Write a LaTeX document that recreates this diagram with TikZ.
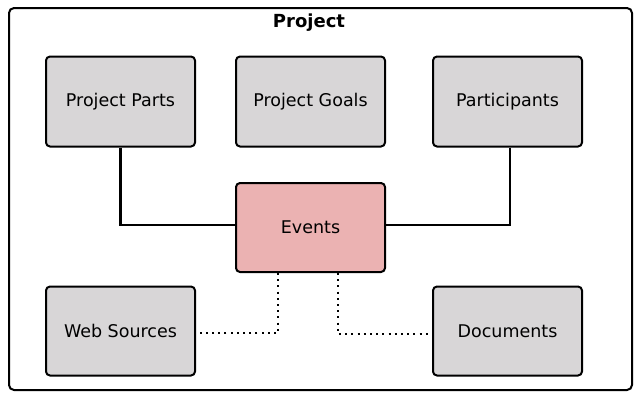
\documentclass[tikz,border=0pt]{standalone}
\usepackage{fontspec}
\setmainfont{DejaVu Sans}
\definecolor{boxgray}{HTML}{D8D6D7}
\definecolor{evpink}{HTML}{EBB2B2}
\begin{document}
\begin{tikzpicture}[x=1pt,y=-1pt,
  box/.style={draw=black,line width=2pt,rounded corners=4pt,fill=boxgray,
    minimum width=149pt,minimum height=90pt,inner sep=0pt,
    font=\fontsize{17.5}{20}\selectfont},
  link/.style={draw=black,line width=2.4pt},
  dotlink/.style={draw=black,line width=2pt,dash pattern=on 2pt off 4.2pt}]
\useasboundingbox (0,0) rectangle (640,400);
\node[draw=black,line width=2pt,rounded corners=5pt,minimum width=623pt,minimum height=382pt,inner sep=0pt,anchor=north west] (frame) at (8,7) {};
\node[font=\bfseries\fontsize{18}{21}\selectfont,anchor=base] (title) at (309,27) {Project};
\node[box] (parts) at (120.5,101.5) {Project Parts};
\node[box] (goals) at (310.5,101.5) {Project Goals};
\node[box] (parti) at (507.5,101.5) {Participants};
\node[box,fill=evpink,minimum height=89pt] (ev) at (310.5,227.5) {Events};
\node[box,minimum height=89pt] (web) at (120.5,331) {Web Sources};
\node[box,minimum height=89pt] (docs) at (507.5,331) {Documents};
\draw[link] (parts.south) |- ([yshift=2.5pt]ev.west);
\draw[link] ([xshift=2.5pt]parti.south) |- ([yshift=2.5pt]ev.east);
\draw[dotlink] ([xshift=-32.5pt]ev.south) |- ([yshift=-2pt]web.east);
\draw[dotlink] ([xshift=27.5pt]ev.south) |- ([yshift=-3pt]docs.west);
\end{tikzpicture}
\end{document}
